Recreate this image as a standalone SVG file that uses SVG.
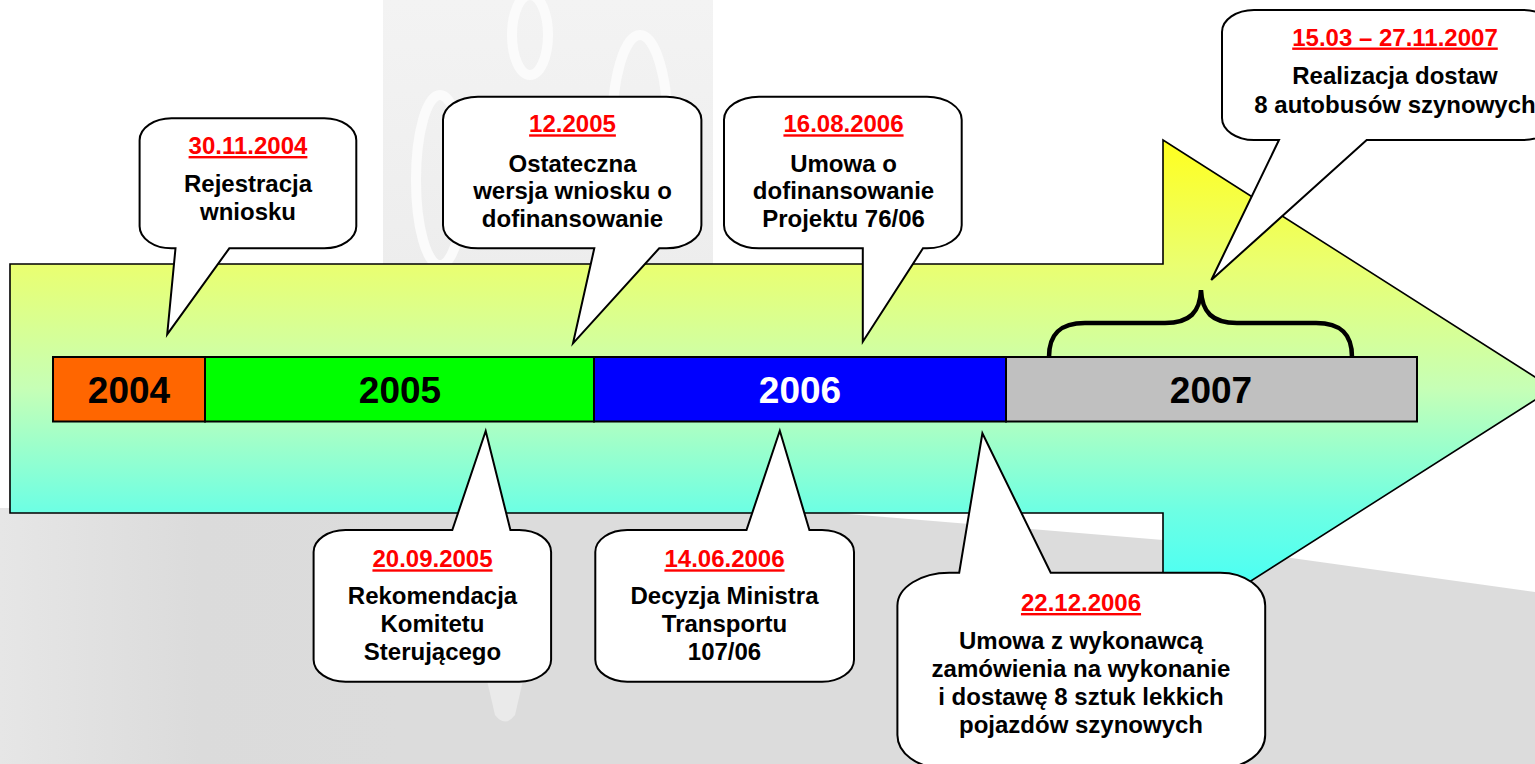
<svg xmlns="http://www.w3.org/2000/svg" width="1535" height="764" viewBox="0 0 1535 764">
<defs>
<linearGradient id="arrowGrad" gradientUnits="userSpaceOnUse" x1="0" y1="140" x2="0" y2="637">
<stop offset="0" stop-color="#FFFF1E"/>
<stop offset="0.25" stop-color="#EAFF70"/>
<stop offset="0.5" stop-color="#C6FFB6"/>
<stop offset="0.75" stop-color="#6CFFE4"/>
<stop offset="1" stop-color="#33FFFF"/>
</linearGradient>
<linearGradient id="bgGray" gradientUnits="userSpaceOnUse" x1="0" y1="0" x2="400" y2="0">
<stop offset="0" stop-color="#E6E6E6"/>
<stop offset="0.5" stop-color="#DBDBDB"/>
<stop offset="1" stop-color="#DCDCDC"/>
</linearGradient>
<linearGradient id="panel" gradientUnits="userSpaceOnUse" x1="0" y1="0" x2="0" y2="270">
<stop offset="0" stop-color="#F3F3F3"/>
<stop offset="1" stop-color="#EDEDED"/>
</linearGradient>
</defs>
<style>
.bubble{fill:#FFFFFF;stroke:#000000;stroke-width:2;stroke-linejoin:miter}
.date{font-family:"Liberation Sans",Arial,sans-serif;font-weight:bold;font-size:24px;fill:#FF0000;text-anchor:middle;text-decoration:underline}
.body{font-family:"Liberation Sans",Arial,sans-serif;font-weight:bold;font-size:24px;fill:#000000;text-anchor:middle}
.year{font-family:"Liberation Sans",Arial,sans-serif;font-weight:bold;font-size:37px;text-anchor:middle}
.seg{stroke:#000000;stroke-width:2}
.wm{fill:none;stroke:#FBFBFB;stroke-width:10}
</style>
<!-- background -->
<rect x="0" y="0" width="1535" height="764" fill="#FFFFFF"/>
<rect x="383" y="0" width="330" height="270" fill="url(#panel)"/>
<ellipse class="wm" cx="440" cy="180" rx="24" ry="85"/>
<ellipse class="wm" cx="530" cy="35" rx="18" ry="40"/>
<ellipse class="wm" cx="640" cy="130" rx="28" ry="95"/>
<path d="M0,508 L800,510 L1163,540 L1535,592 L1535,764 L0,764 Z" fill="url(#bgGray)"/>
<path d="M480,650 Q505,630 530,650 L515,715 Q505,728 495,715 Z" fill="#EAEAEA"/>
<!-- big arrow -->
<g id="arrow">
<path d="M10,264 H1163 V140 L1553,388.5 L1163,637 V513 H10 Z" fill="url(#arrowGrad)" stroke="#000000" stroke-width="1.6"/>
</g>
<!-- timeline bar -->
<g id="timeline">
<rect class="seg" x="53" y="357" width="152" height="64.5" fill="#FF6600"/>
<rect class="seg" x="205" y="357" width="389" height="64.5" fill="#00FF00"/>
<rect class="seg" x="594" y="357" width="412" height="64.5" fill="#0000FF"/>
<rect class="seg" x="1006" y="357" width="411" height="64.5" fill="#C0C0C0"/>
<text class="year" x="129" y="403" fill="#000000">2004</text>
<text class="year" x="400" y="403" fill="#000000">2005</text>
<text class="year" x="800" y="403" fill="#FFFFFF">2006</text>
<text class="year" x="1211" y="403" fill="#000000">2007</text>
</g>
<!-- connectors -->
<g id="connectors">
<path d="M1049,357 C1049,334 1060,323 1085,323 H1165 C1190,323 1200,312 1201,290 C1202,312 1212,323 1237,323 H1316 C1341,323 1352,334 1352,357" fill="none" stroke="#000000" stroke-width="4.5"/>
</g>
<!-- callout 1 -->
<g id="c1">
<path class="bubble" d="M172,118.3 H324 A32,22 0 0 1 356.3,140.3 V226.3 A32,22 0 0 1 324,248.3 H229.3 L167.2,334.3 L175.5,248.3 H172 A32,22 0 0 1 139.6,226.3 V140.3 A32,22 0 0 1 172,118.3 Z"/>
<text class="date" x="248" y="154">30.11.2004</text>
<text class="body" x="248" y="192">Rejestracja</text>
<text class="body" x="248" y="220">wniosku</text>
</g>
<!-- callout 2 -->
<g id="c2">
<path class="bubble" d="M478,96.7 H666 A35,23 0 0 1 701.4,119.7 V225.3 A35,23 0 0 1 666,248.3 H659.2 L573,343.3 L594.3,248.3 H478 A35,23 0 0 1 443,225.3 V119.7 A35,23 0 0 1 478,96.7 Z"/>
<text class="date" x="572.5" y="132.3">12.2005</text>
<text class="body" x="572.5" y="171.5">Ostateczna</text>
<text class="body" x="572.5" y="199.3">wersja wniosku o</text>
<text class="body" x="572.5" y="226.7">dofinansowanie</text>
</g>
<!-- callout 3 -->
<g id="c3">
<path class="bubble" d="M759,96.7 H927 A35,23 0 0 1 961.7,119.7 V225.3 A35,23 0 0 1 927,248.3 H923 L862.8,341.7 L862.8,248.3 H759 A35,23 0 0 1 724,225.3 V119.7 A35,23 0 0 1 759,96.7 Z"/>
<text class="date" x="843.5" y="132.3">16.08.2006</text>
<text class="body" x="843.5" y="171.5">Umowa o</text>
<text class="body" x="843.5" y="199.3">dofinansowanie</text>
<text class="body" x="843.5" y="226.7">Projektu 76/06</text>
</g>
<!-- callout 4 -->
<g id="c4">
<path class="bubble" d="M1254,10 H1523 A32,22 0 0 1 1555,32 V118 A32,22 0 0 1 1523,140 H1366.7 L1211.3,280 L1279,140 H1254 A32,22 0 0 1 1222,118 V32 A32,22 0 0 1 1254,10 Z"/>
<text class="date" x="1395" y="45.5">15.03 – 27.11.2007</text>
<text class="body" x="1395" y="83.5">Realizacja dostaw</text>
<text class="body" x="1395" y="112.7">8 autobusów szynowych</text>
</g>
<!-- callout 5 -->
<g id="c5">
<path class="bubble" d="M346,530 H452.3 L485.7,431 L510.4,530 H519 A32,22 0 0 1 551.1,552 V659.7 A32,22 0 0 1 519,681.7 H346 A32,22 0 0 1 313.6,659.7 V552 A32,22 0 0 1 346,530 Z"/>
<text class="date" x="432.5" y="567.3">20.09.2005</text>
<text class="body" x="432.5" y="604">Rekomendacja</text>
<text class="body" x="432.5" y="632.3">Komitetu</text>
<text class="body" x="432.5" y="660">Sterującego</text>
</g>
<!-- callout 6 -->
<g id="c6">
<path class="bubble" d="M628,530 H746.5 L779.8,430.7 L809.4,530 H822 A32,22 0 0 1 854,552 V659.7 A32,22 0 0 1 822,681.7 H628 A32,22 0 0 1 595.3,659.7 V552 A32,22 0 0 1 628,530 Z"/>
<text class="date" x="724.5" y="567.3">14.06.2006</text>
<text class="body" x="724.5" y="604">Decyzja Ministra</text>
<text class="body" x="724.5" y="632.3">Transportu</text>
<text class="body" x="724.5" y="660">107/06</text>
</g>
<!-- callout 7 -->
<g id="c7">
<path class="bubble" d="M950,572.7 H959.2 L982.4,433.3 L1050.7,572.7 H1220 A45,33 0 0 1 1265.2,605.7 V735 A45,33 0 0 1 1220,768 H942 A45,33 0 0 1 897.4,735 V605.7 A52,33 0 0 1 950,572.7 Z"/>
<text class="date" x="1081" y="611">22.12.2006</text>
<text class="body" x="1081" y="649.3">Umowa z wykonawcą</text>
<text class="body" x="1081" y="677.3">zamówienia na wykonanie</text>
<text class="body" x="1081" y="705">i dostawę 8 sztuk lekkich</text>
<text class="body" x="1081" y="732.7">pojazdów szynowych</text>
</g>
</svg>
